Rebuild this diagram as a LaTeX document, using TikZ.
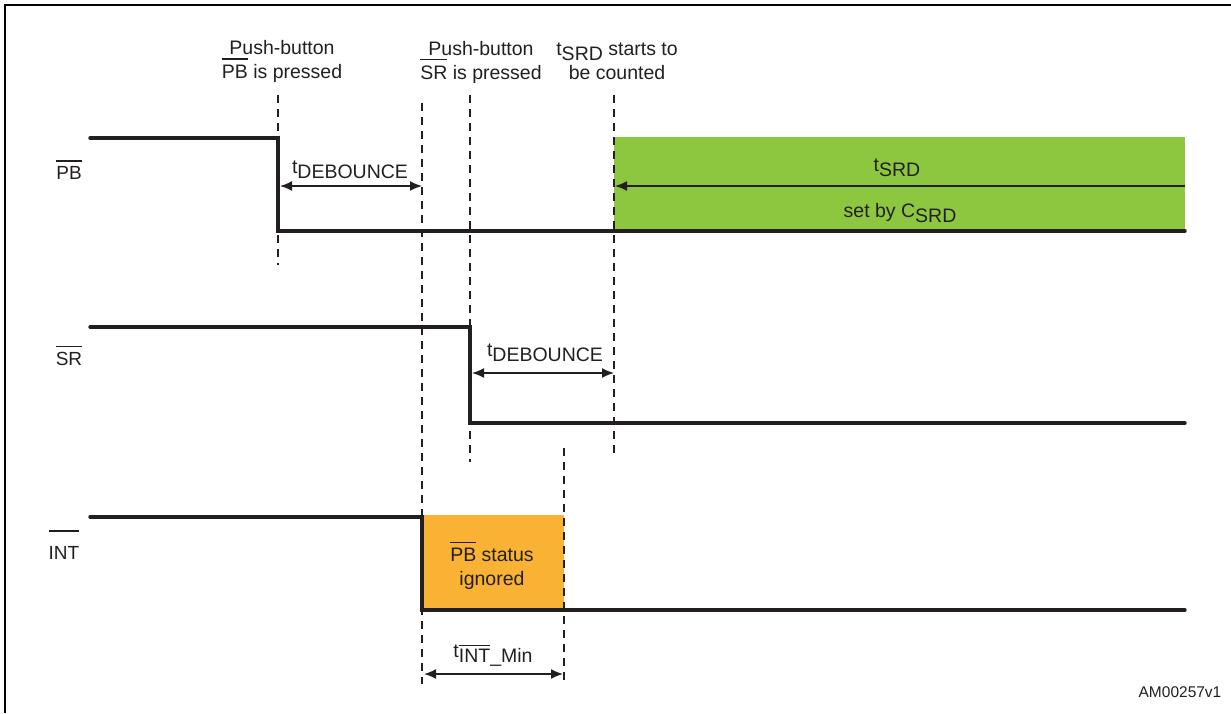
\documentclass[tikz,border=0pt]{standalone}
\usepackage{fontspec}
\setmainfont{Liberation Sans}
\usetikzlibrary{arrows.meta}
\definecolor{sigcol}{HTML}{231F20}
\definecolor{srdgreen}{HTML}{8DC63F}
\definecolor{intorange}{HTML}{F9B233}
\newsavebox\ovbox
\newcommand{\ovbar}[2][6pt]{\sbox\ovbox{#2}\rlap{\raisebox{\dimexpr\ht\ovbox+#1\relax}{\rule{\wd\ovbox}{1.2pt}}}\usebox\ovbox}
\newcommand{\lowsub}[1]{\raisebox{-5pt}{#1}}
\begin{document}
\begin{tikzpicture}[x=1pt,y=-1pt,
  sig/.style={line width=3.4pt,draw=sigcol,line cap=round,line join=miter},
  vguide/.style={line width=1.5pt,draw=sigcol,dash pattern=on 8pt off 6pt},
  dim/.style={line width=1.6pt,draw=sigcol,{Latex[length=12pt,width=10pt]}-{Latex[length=12pt,width=10pt]}},
  dimone/.style={line width=1.6pt,draw=sigcol,-{Latex[length=12pt,width=10pt]}},
  txt/.style={inner sep=0pt,text=sigcol,font=\fontsize{19.5}{24}\selectfont,align=center},
  lbl/.style={inner sep=0pt,text=sigcol,font=\fontsize{19}{23}\selectfont}]
\useasboundingbox (0,0) rectangle (1231,713);
% frame
\coordinate (fr1) at (1231,5);
\coordinate (fr2) at (5,5);
\coordinate (fr3) at (5,713);
\draw[line width=2.6pt] (fr1) -- (fr2) -- (fr3);
% coloured areas
\fill[srdgreen] (614,137) rectangle (1185,231);
\fill[intorange] (422,515) rectangle (564,610);
% dashed guides
\coordinate (g1a) at (278,95);  \coordinate (g1b) at (278,265);
\coordinate (g2a) at (422,103); \coordinate (g2b) at (422,684);
\coordinate (g3a) at (470,95);  \coordinate (g3b) at (470,462);
\coordinate (g4a) at (614,95);  \coordinate (g4b) at (614,456);
\coordinate (g5a) at (564,448); \coordinate (g5b) at (564,684);
\draw[vguide] (g1a) -- (g1b);
\draw[vguide] (g2a) -- (g2b);
\draw[vguide] (g3a) -- (g3b);
\draw[vguide] (g4a) -- (g4b);
\draw[vguide] (g5a) -- (g5b);
% signals
\coordinate (pb0) at (90,138);  \coordinate (pb1) at (278,138);
\coordinate (pb2) at (278,231); \coordinate (pb3) at (1185,231);
\draw[sig] (pb0) -- (pb1) -- (pb2) -- (pb3);
\coordinate (sr0) at (90,327);  \coordinate (sr1) at (470,327);
\coordinate (sr2) at (470,423); \coordinate (sr3) at (1185,423);
\draw[sig] (sr0) -- (sr1) -- (sr2) -- (sr3);
\coordinate (in0) at (90,517);  \coordinate (in1) at (422,517);
\coordinate (in2) at (422,610); \coordinate (in3) at (1185,610);
\draw[sig] (in0) -- (in1) -- (in2) -- (in3);
% signal names
\node[lbl] (lpb) at (69,170) {\ovbar[5pt]{PB}};
\node[lbl] (lsr) at (69,356) {\ovbar[5pt]{SR}};
\node[lbl] (lint) at (64,545) {\ovbar[15pt]{INT}};
% top labels
\node[txt] (tpb) at (282,61) {Push-button\\\ovbar[5pt]{PB} is pressed};
\node[txt] (tsr) at (481,62) {Push-button\\\ovbar[5pt]{SR} is pressed};
\node[txt] (tsrd) at (617,61) {t\lowsub{SRD} starts to\\be counted};
% dimension arrows
\coordinate (d1a) at (280,186); \coordinate (d1b) at (422,186);
\draw[dim] (d1a) -- (d1b);
\node[txt] (l1) at (350,170) {t\lowsub{DEBOUNCE}};
\coordinate (d2a) at (472,373); \coordinate (d2b) at (614,373);
\draw[dim] (d2a) -- (d2b);
\node[txt] (l2) at (545,353) {t\lowsub{DEBOUNCE}};
\coordinate (d3a) at (1185,186); \coordinate (d3b) at (615,186);
\draw[dimone] (d3a) -- (d3b);
\node[txt] (l3) at (897,168) {t\lowsub{SRD}};
\node[txt] (l4) at (900,213) {set by C\lowsub{SRD}};
\coordinate (d4a) at (424,674); \coordinate (d4b) at (563,674);
\draw[dim] (d4a) -- (d4b);
\node[txt] (l5) at (493,656) {t\lowsub{\ovbar[3pt]{INT}\_Min}};
% orange box text
\node[txt] (ign) at (492,566) {\ovbar[5pt]{PB} status\\ignored};
% reference code
\node[inner sep=0pt,text=sigcol,font=\fontsize{15.5}{18}\selectfont] (code) at (1180,692) {AM00257v1};
\end{tikzpicture}
\end{document}
